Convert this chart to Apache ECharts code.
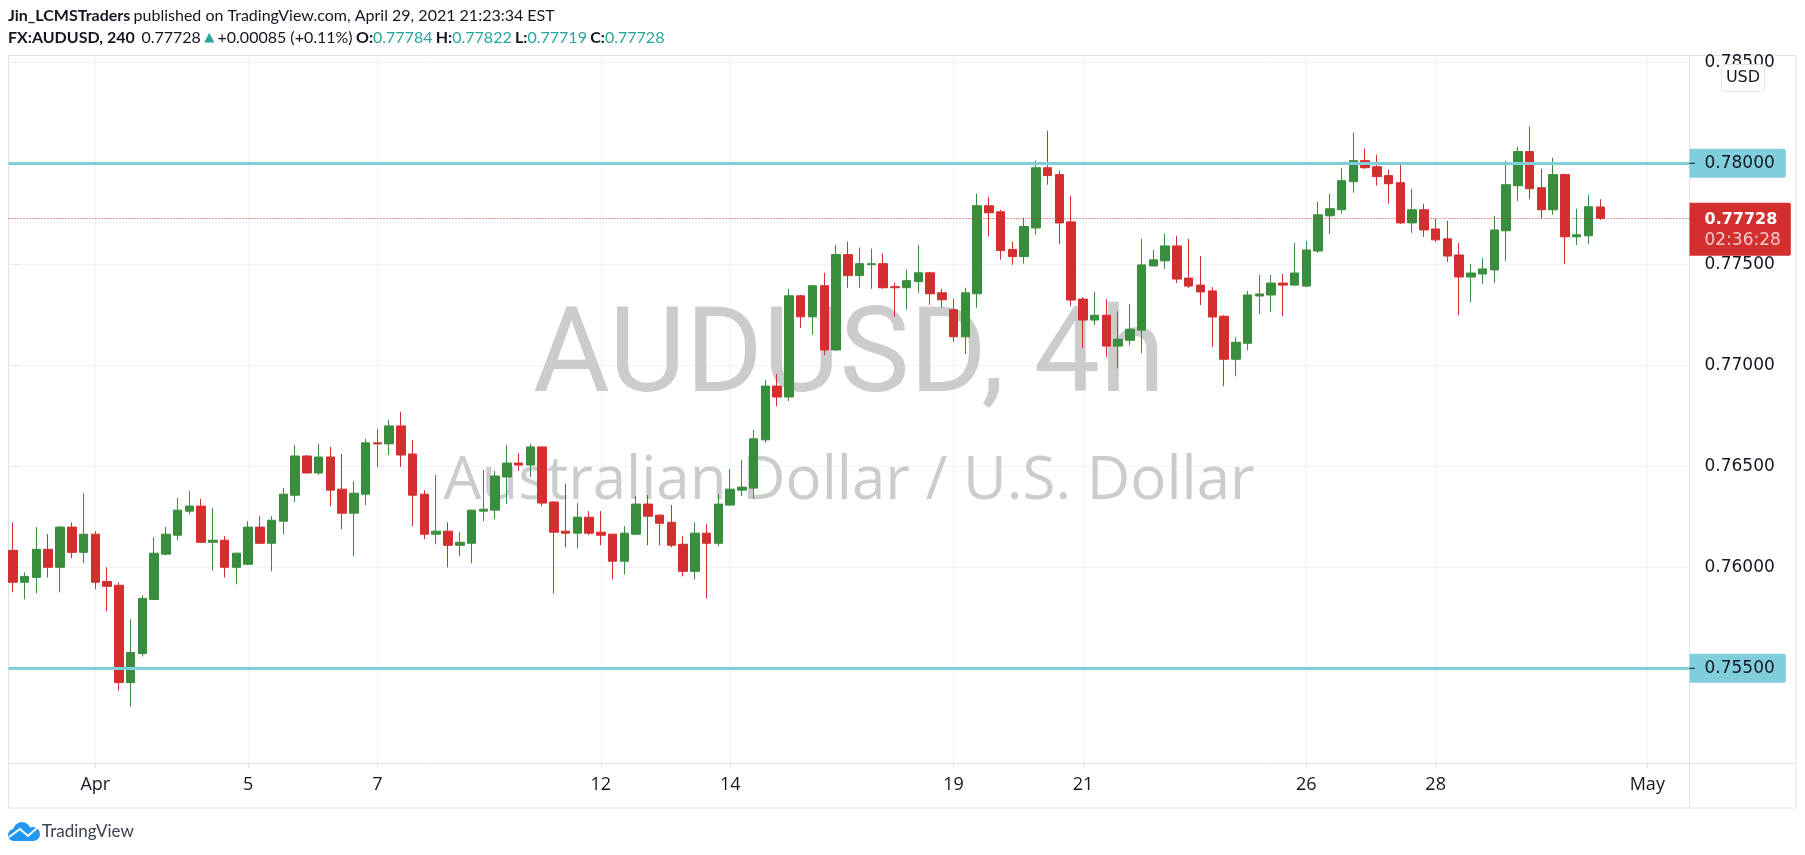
<!DOCTYPE html>
<html>
<head>
<meta charset="utf-8">
<title>AUDUSD, 4h</title>
<script src="https://cdn.jsdelivr.net/npm/echarts@6/dist/echarts.min.js"></script>
<style>
    html, body { margin: 0; padding: 0; background: #fff; }
    #chart { width: 1805px; height: 855px; }
</style>
</head>
<body>
<div id="chart"></div>
<script>
// 4小时K线数据
var opens = [
    0.76084, 0.75926, 0.75950, 0.76089, 0.76000, 0.76199, 0.76074, 0.76164, 0.75930, 0.75911,
    0.75429, 0.75573, 0.75841, 0.76065, 0.76159, 0.76278, 0.76303, 0.76124, 0.76134, 0.76000,
    0.76015, 0.76199, 0.76119, 0.76228, 0.76357, 0.76551, 0.76467, 0.76546, 0.76387, 0.76268,
    0.76362, 0.76616, 0.76611, 0.76700, 0.76561, 0.76362, 0.76164, 0.76179, 0.76109, 0.76119,
    0.76278, 0.76283, 0.76447, 0.76516, 0.76506, 0.76596, 0.76323, 0.76179, 0.76169, 0.76248,
    0.76174, 0.76164, 0.76030, 0.76164, 0.76313, 0.76258, 0.76223, 0.76114, 0.75980, 0.76169,
    0.76119, 0.76308, 0.76382, 0.76392, 0.76631, 0.76897, 0.76843, 0.77344, 0.77240, 0.77394,
    0.77076, 0.77548, 0.77444, 0.77498, 0.77503, 0.77389, 0.77384, 0.77414, 0.77458, 0.77359,
    0.77275, 0.77141, 0.77354, 0.77790, 0.77760, 0.77573, 0.77538, 0.77680, 0.77978, 0.77944,
    0.77710, 0.77328, 0.77224, 0.77248, 0.77095, 0.77124, 0.77174, 0.77492, 0.77517, 0.77591,
    0.77432, 0.77397, 0.77368, 0.77243, 0.77030, 0.77109, 0.77343, 0.77348, 0.77407, 0.77397,
    0.77392, 0.77566, 0.77740, 0.77770, 0.77909, 0.78013, 0.77983, 0.77939, 0.77904, 0.77705,
    0.77770, 0.77675, 0.77626, 0.77546, 0.77437, 0.77452, 0.77472, 0.77666, 0.77889, 0.78058,
    0.77879, 0.77770, 0.77944, 0.77636, 0.77641, 0.77784
];
var closes = [
    0.75926, 0.75955, 0.76089, 0.76000, 0.76199, 0.76074, 0.76164, 0.75926, 0.75906, 0.75429,
    0.75578, 0.75846, 0.76070, 0.76164, 0.76283, 0.76303, 0.76124, 0.76134, 0.76000, 0.76070,
    0.76199, 0.76119, 0.76233, 0.76362, 0.76551, 0.76467, 0.76546, 0.76382, 0.76268, 0.76367,
    0.76616, 0.76611, 0.76700, 0.76556, 0.76357, 0.76164, 0.76179, 0.76109, 0.76124, 0.76283,
    0.76288, 0.76452, 0.76516, 0.76506, 0.76596, 0.76318, 0.76174, 0.76169, 0.76248, 0.76169,
    0.76159, 0.76030, 0.76169, 0.76313, 0.76253, 0.76218, 0.76109, 0.75980, 0.76169, 0.76119,
    0.76313, 0.76387, 0.76397, 0.76636, 0.76897, 0.76843, 0.77344, 0.77240, 0.77394, 0.77076,
    0.77548, 0.77444, 0.77503, 0.77503, 0.77384, 0.77384, 0.77419, 0.77458, 0.77354, 0.77324,
    0.77141, 0.77359, 0.77790, 0.77755, 0.77568, 0.77538, 0.77687, 0.77978, 0.77939, 0.77705,
    0.77323, 0.77224, 0.77248, 0.77095, 0.77129, 0.77179, 0.77497, 0.77522, 0.77591, 0.77427,
    0.77392, 0.77363, 0.77239, 0.77030, 0.77114, 0.77348, 0.77353, 0.77407, 0.77397, 0.77457,
    0.77571, 0.77745, 0.77775, 0.77914, 0.78013, 0.77978, 0.77934, 0.77899, 0.77705, 0.77770,
    0.77670, 0.77621, 0.77541, 0.77437, 0.77457, 0.77477, 0.77670, 0.77894, 0.78058, 0.77874,
    0.77770, 0.77944, 0.77636, 0.77646, 0.77785, 0.77728
];
var highs = [
    0.76223, 0.75975, 0.76199, 0.76164, 0.76204, 0.76223, 0.76367, 0.76179, 0.76000, 0.75926,
    0.75742, 0.75861, 0.76149, 0.76199, 0.76343, 0.76377, 0.76338, 0.76293, 0.76154, 0.76072,
    0.76228, 0.76253, 0.76253, 0.76392, 0.76606, 0.76556, 0.76611, 0.76596, 0.76561, 0.76427,
    0.76636, 0.76685, 0.76730, 0.76770, 0.76631, 0.76382, 0.76457, 0.76223, 0.76174, 0.76285,
    0.76482, 0.76477, 0.76606, 0.76566, 0.76611, 0.76598, 0.76328, 0.76412, 0.76318, 0.76278,
    0.76278, 0.76166, 0.76204, 0.76353, 0.76357, 0.76263, 0.76308, 0.76154, 0.76223, 0.76213,
    0.76362, 0.76487, 0.76531, 0.76680, 0.76927, 0.76957, 0.77379, 0.77349, 0.77399, 0.77458,
    0.77597, 0.77612, 0.77583, 0.77578, 0.77553, 0.77409, 0.77473, 0.77597, 0.77463, 0.77379,
    0.77329, 0.77384, 0.77849, 0.77834, 0.77770, 0.77612, 0.77730, 0.78013, 0.78162, 0.77963,
    0.77839, 0.77338, 0.77363, 0.77328, 0.77268, 0.77303, 0.77626, 0.77571, 0.77651, 0.77641,
    0.77626, 0.77541, 0.77387, 0.77248, 0.77139, 0.77368, 0.77447, 0.77447, 0.77452, 0.77606,
    0.77616, 0.77809, 0.77849, 0.77978, 0.78152, 0.78073, 0.78043, 0.77968, 0.77998, 0.77874,
    0.77800, 0.77725, 0.77715, 0.77606, 0.77502, 0.77531, 0.77740, 0.78013, 0.78083, 0.78182,
    0.77973, 0.78028, 0.77949, 0.77775, 0.77844, 0.77822
];
var lows = [
    0.75876, 0.75841, 0.75871, 0.75950, 0.75876, 0.76045, 0.76020, 0.75891, 0.75782, 0.75389,
    0.75310, 0.75558, 0.75838, 0.76060, 0.76134, 0.76263, 0.76120, 0.75985, 0.75950, 0.75916,
    0.76010, 0.76117, 0.75980, 0.76164, 0.76323, 0.76465, 0.76457, 0.76303, 0.76189, 0.76055,
    0.76308, 0.76497, 0.76556, 0.76497, 0.76204, 0.76139, 0.76114, 0.76000, 0.76055, 0.76020,
    0.76228, 0.76238, 0.76313, 0.76477, 0.76447, 0.76303, 0.75871, 0.76099, 0.76094, 0.76159,
    0.76109, 0.75940, 0.75965, 0.76159, 0.76109, 0.76109, 0.76099, 0.75955, 0.75940, 0.75846,
    0.76104, 0.76306, 0.76353, 0.76338, 0.76616, 0.76798, 0.76823, 0.77185, 0.77151, 0.77051,
    0.77071, 0.77384, 0.77384, 0.77379, 0.77379, 0.77240, 0.77275, 0.77359, 0.77300, 0.77285,
    0.77116, 0.77056, 0.77285, 0.77637, 0.77523, 0.77498, 0.77503, 0.77646, 0.77894, 0.77601,
    0.77293, 0.77085, 0.77199, 0.77040, 0.76985, 0.77099, 0.77060, 0.77490, 0.77477, 0.77407,
    0.77382, 0.77298, 0.77090, 0.76896, 0.76946, 0.77075, 0.77253, 0.77263, 0.77243, 0.77395,
    0.77387, 0.77556, 0.77651, 0.77750, 0.77854, 0.77973, 0.77889, 0.77800, 0.77700, 0.77656,
    0.77636, 0.77611, 0.77512, 0.77248, 0.77313, 0.77402, 0.77407, 0.77517, 0.77814, 0.77824,
    0.77730, 0.77745, 0.77502, 0.77596, 0.77601, 0.77719
];

// x轴：只显示这些K线序号上的日期
var dateIndexes = [7, 20, 31, 50, 61, 80, 91, 110, 121, 139];
var dateLabels = ['Apr', '5', '7', '12', '14', '19', '21', '26', '28', 'May'];
// y轴刻度
var priceTicks = [0.755, 0.76, 0.765, 0.77, 0.775, 0.78, 0.785];
// 两条水平线 + 最新价
var levels = [0.78, 0.755];
var lastPrice = 0.77728;
var countdown = '02:36:28';

var UP = '#388E3C', DOWN = '#D32F2F', LEVEL = '#80CDDC';
var FRAME = '#E0E3EB', GRID = '#F0F3FA', INK = '#131722', TEAL = '#26A69A';
var AXIS_FONT = '"DejaVu Sans"', TEXT_FONT = '"Open Sans"', HEAD_FONT = 'Lato';

var candles = opens.map(function(o, i) {
    return [i, o, closes[i], lows[i], highs[i]];
});

var markData = levels.map(function(v) {
    return {
        yAxis: v,
        lineStyle: { color: LEVEL, width: 3, type: 'solid' },
        label: {
            formatter: v.toFixed(5),
            color: INK,
            backgroundColor: LEVEL,
            padding: [6, 11, 6, 15],
            borderRadius: [0, 2, 2, 0]
        }
    };
});
markData.push({
    yAxis: lastPrice,
    lineStyle: { color: DOWN, width: 1, type: [1, 2] },
    label: {
        formatter: '{p|' + lastPrice.toFixed(5) + '}\n{t|' + countdown + '}',
        offset: [0, 11],
        backgroundColor: DOWN,
        padding: [7, 10, 4, 15],
        borderRadius: [0, 2, 2, 0],
        rich: {
            p: { color: '#fff', fontFamily: AXIS_FONT, fontSize: 16, fontWeight: 'bold', lineHeight: 20 },
            t: { color: 'rgba(255,255,255,.75)', fontFamily: AXIS_FONT, fontSize: 17, lineHeight: 22 }
        }
    }
});

var myChart = echarts.init(document.getElementById('chart'));
var option = {
    animation: false,
    grid: {
        left: 8.5,
        top: 55.5,
        width: 1681,
        height: 708,
        show: true,
        borderColor: FRAME,
        borderWidth: 1
    },
    xAxis: {
        type: 'value',
        min: -0.38,
        max: 142.59,
        axisLine: { show: false },
        axisTick: { length: 5, lineStyle: { color: FRAME }, customValues: dateIndexes },
        splitLine: { lineStyle: { color: GRID, width: 1 } },
        axisLabel: {
            customValues: dateIndexes,
            margin: 12,
            color: INK,
            fontFamily: TEXT_FONT,
            fontSize: 18,
            formatter: function(v) {
                return dateLabels[dateIndexes.indexOf(v)];
            }
        }
    },
    yAxis: {
        type: 'value',
        position: 'right',
        min: 0.750287,
        max: 0.785337,
        axisLine: { show: false },
        axisTick: { length: 6, lineStyle: { color: FRAME }, customValues: priceTicks },
        splitLine: { lineStyle: { color: GRID, width: 1 } },
        axisLabel: {
            // 0.78 和 0.755 由水平线的标签显示
            customValues: priceTicks.filter(function(v) { return levels.indexOf(v) < 0; }),
            margin: 15,
            color: INK,
            fontFamily: AXIS_FONT,
            fontSize: 17,
            formatter: function(v) {
                return v.toFixed(5);
            }
        }
    },
    series: [
        {
            type: 'candlestick',
            data: candles,
            barWidth: 9,
            itemStyle: {
                color: UP,
                color0: DOWN,
                borderColor: UP,
                borderColor0: DOWN,
                borderWidth: 1
            },
            markLine: {
                silent: true,
                symbol: 'none',
                animation: false,
                precision: 5,
                label: {
                    position: 'end',
                    distance: 0,
                    fontFamily: AXIS_FONT,
                    fontSize: 17
                },
                data: markData
            }
        }
    ]
};
myChart.setOption(option);

// 水位线在价格轴上的黑色短刻度
var levelTicks = levels.map(function(v) {
    var y = myChart.convertToPixel({ yAxisIndex: 0 }, v);
    return {
        type: 'line', z: 20, silent: true,
        shape: { x1: 1689.5, y1: y, x2: 1695, y2: y },
        style: { stroke: INK, lineWidth: 1 }
    };
});

var graphics = [
    // 背景水印
    {
        type: 'text', z: 1, silent: true,
        style: {
            x: 849, y: 361, text: 'AUDUSD, 4h', fill: '#CCCCCC',
            font: '118px Roboto', textAlign: 'center', textVerticalAlign: 'middle'
        }
    },
    {
        type: 'text', z: 1, silent: true,
        style: {
            x: 849, y: 482, text: 'Australian Dollar / U.S. Dollar', fill: '#CCCCCC',
            font: '60px "Open Sans"', textAlign: 'center', textVerticalAlign: 'middle'
        }
    },
    // 外框
    {
        type: 'rect', z: 0, silent: true,
        shape: { x: 8.5, y: 55.5, width: 1787.5, height: 752.5 },
        style: { fill: 'none', stroke: FRAME, lineWidth: 1 }
    },
    {
        type: 'line', z: 0, silent: true,
        shape: { x1: 1689.5, y1: 55.5, x2: 1689.5, y2: 808 },
        style: { stroke: FRAME, lineWidth: 1 }
    },
    {
        type: 'line', z: 0, silent: true,
        shape: { x1: 1689.5, y1: 763.5, x2: 1796, y2: 763.5 },
        style: { stroke: FRAME, lineWidth: 1 }
    },
    // 标题两行
    {
        type: 'text', silent: true,
        style: {
            x: 8, y: 16, textVerticalAlign: 'middle',
            text: '{b|Jin_LCMSTraders} {n|published on TradingView.com, April 29, 2021 21:23:34 EST}',
            rich: {
                b: { fontFamily: HEAD_FONT, fontSize: 16, fontWeight: 'bold', fill: INK },
                n: { fontFamily: HEAD_FONT, fontSize: 16, fill: INK }
            }
        }
    },
    {
        type: 'text', silent: true,
        style: {
            x: 8, y: 38, textVerticalAlign: 'middle',
            text: '{b|FX:AUDUSD, 240}  {n|0.77728} {a|▲} {n|+0.00085 (+0.11%)} {b|O:}{t|0.77784} {b|H:}{t|0.77822} {b|L:}{t|0.77719} {b|C:}{t|0.77728}',
            rich: {
                b: { fontFamily: HEAD_FONT, fontSize: 16, fontWeight: 'bold', fill: INK },
                n: { fontFamily: HEAD_FONT, fontSize: 16, fill: INK },
                t: { fontFamily: HEAD_FONT, fontSize: 16, fill: TEAL },
                a: { fontFamily: AXIS_FONT, fontSize: 13, fill: TEAL }
            }
        }
    },
    // USD 小框
    {
        type: 'rect', z: 20, silent: true,
        shape: { x: 1721.5, y: 64.5, width: 43, height: 27, r: 4 },
        style: { fill: '#fff', stroke: FRAME, lineWidth: 1 }
    },
    {
        type: 'text', z: 21, silent: true,
        style: {
            x: 1743, y: 78, text: 'USD', fill: INK,
            font: '16px "DejaVu Sans"', textAlign: 'center', textVerticalAlign: 'middle'
        }
    },
    // TradingView 标志：几个圆拼成的云
    {
        type: 'circle', silent: true,
        shape: { cx: 14, cy: 835, r: 6 },
        style: { fill: '#2196F3' }
    },
    {
        type: 'circle', silent: true,
        shape: { cx: 22, cy: 831, r: 9 },
        style: { fill: '#2196F3' }
    },
    {
        type: 'circle', silent: true,
        shape: { cx: 33, cy: 834, r: 7 },
        style: { fill: '#2196F3' }
    },
    {
        type: 'rect', silent: true,
        shape: { x: 14, y: 833, width: 19, height: 8 },
        style: { fill: '#2196F3' }
    },
    {
        type: 'polyline', z: 1, silent: true,
        shape: { points: [[9, 837], [20, 829], [28, 836], [37, 828]] },
        style: { fill: 'none', stroke: '#fff', lineWidth: 2 }
    },
    {
        type: 'text', silent: true,
        style: {
            x: 42, y: 832, text: 'TradingView', fill: '#3B4250',
            font: '17px Lato', textVerticalAlign: 'middle'
        }
    }
];
myChart.setOption({ graphic: graphics.concat(levelTicks) });

window.addEventListener('resize', function() {
    myChart.resize();
});
</script>
</body>
</html>
